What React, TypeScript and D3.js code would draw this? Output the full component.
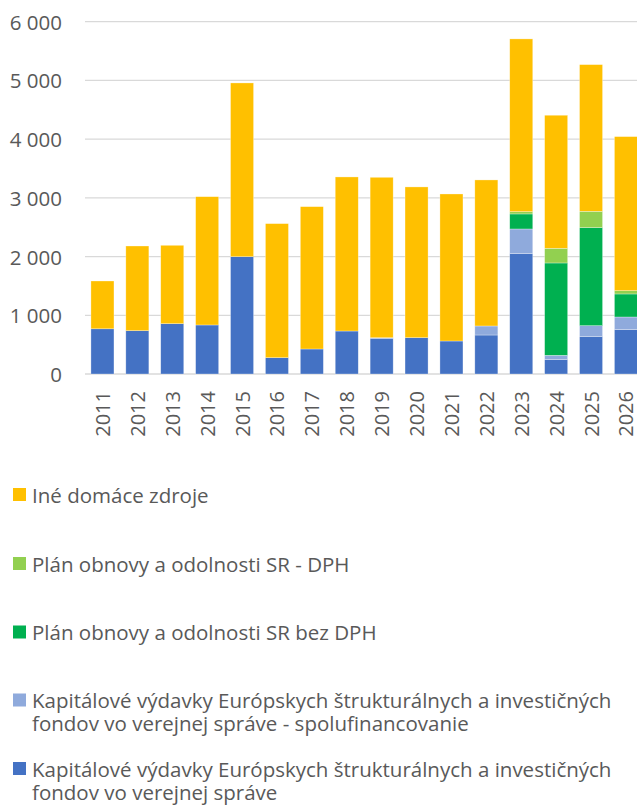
import React from "react";
import * as d3 from "d3";

const years = ["2011","2012","2013","2014","2015","2016","2017","2018","2019","2020","2021","2022","2023","2024","2025","2026"];
const euFunds = [770, 738, 857, 835, 1998, 278, 426, 732, 608, 619, 562, 664, 2050, 244, 636, 755];
const euCofinancing = [0, 0, 0, 0, 0, 0, 0, 0, 10, 0, 0, 154, 420, 74, 187, 216];
const rrfWithoutVat = [0, 0, 0, 0, 0, 0, 0, 0, 0, 0, 0, 0, 256, 1573, 1670, 392];
const rrfVat = [0, 0, 0, 0, 0, 0, 0, 0, 0, 0, 0, 0, 39, 250, 278, 56];
const otherDomestic = [814, 1442, 1335, 2185, 2959, 2283, 2424, 2624, 2732, 2567, 2504, 2487, 2942, 2266, 2498, 2624];
const yTicks = [0, 1000, 2000, 3000, 4000, 5000, 6000];

const seriesKeys = ["eu", "cofin", "rrf", "rrfVat", "other"];
const seriesColors: Record<string, string> = {
  eu: "#4472C4",
  cofin: "#8FAADC",
  rrf: "#00B050",
  rrfVat: "#92D050",
  other: "#FFC000",
};
const legendItems = [
  { key: "other", lines: ["Iné domáce zdroje"] },
  { key: "rrfVat", lines: ["Plán obnovy a odolnosti SR - DPH"] },
  { key: "rrf", lines: ["Plán obnovy a odolnosti SR bez DPH"] },
  { key: "cofin", lines: ["Kapitálové výdavky Európskych štrukturálnych a investičných", "fondov vo verejnej správe - spolufinancovanie"] },
  { key: "eu", lines: ["Kapitálové výdavky Európskych štrukturálnych a investičných", "fondov vo verejnej správe"] },
];

const W = 637, H = 808;
const FONT = "'Open Sans', sans-serif";
const TEXT = "#595959";

export default function App() {
  const table = years.map((y, i) => ({
    year: y,
    eu: euFunds[i],
    cofin: euCofinancing[i],
    rrf: rrfWithoutVat[i],
    rrfVat: rrfVat[i],
    other: otherDomestic[i],
  }));
  const stacked = d3.stack<any>().keys(seriesKeys)(table);
  const x = d3.scaleBand<string>().domain(years).range([85, 643.4]).paddingInner(0.34).paddingOuter(0.17);
  const y = d3.scaleLinear().domain([0, 6000]).range([374, 21.7]);
  const fmt = (v: number) => d3.format(",")(v).replace(/,/g, " ");

  const legendRowY = [494.5, 563.5, 632, 700, 768.5];

  return (
    <svg width={W} height={H} style={{ position: "absolute", left: 0, top: 0, background: "#fff" }} fontFamily={FONT}>
      {yTicks.map((t) => (
        <g key={t}>
          <line x1={85} x2={W} y1={y(t)} y2={y(t)} stroke="#d9d9d9" strokeWidth={1.3} />
          <text x={62} y={y(t)} textAnchor="end" dominantBaseline="central" fontSize={20.5} fill={TEXT}>
            {fmt(t)}
          </text>
        </g>
      ))}
      {stacked.map((s) => (
        <g key={s.key} fill={seriesColors[s.key]}>
          {s.map((d, i) =>
            d[1] - d[0] > 0 ? (
              <rect
                key={i}
                x={x(years[i])}
                width={x.bandwidth()}
                y={y(d[1])}
                height={y(d[0]) - y(d[1])}
                stroke="#ffffff"
                strokeOpacity={0.5}
                strokeWidth={0.6}
              />
            ) : null
          )}
        </g>
      ))}
      {years.map((yr) => {
        const cx = (x(yr) as number) + x.bandwidth() / 2;
        return (
          <text
            key={yr}
            transform={`translate(${cx},391) rotate(-90)`}
            textAnchor="end"
            dominantBaseline="central"
            fontSize={20}
            fill={TEXT}
          >
            {yr}
          </text>
        );
      })}
      {legendItems.map((item, i) => (
        <g key={item.key}>
          <rect x={13} y={legendRowY[i] - 6.5} width={13} height={13} fill={seriesColors[item.key]} />
          <text x={32} y={legendRowY[i]} dominantBaseline="central" fontSize={20.5} fill={TEXT}>
            {item.lines.map((ln, j) => (
              <tspan key={j} x={32} dy={j === 0 ? 0 : 23} dominantBaseline="central">
                {ln}
              </tspan>
            ))}
          </text>
        </g>
      ))}
    </svg>
  );
}
